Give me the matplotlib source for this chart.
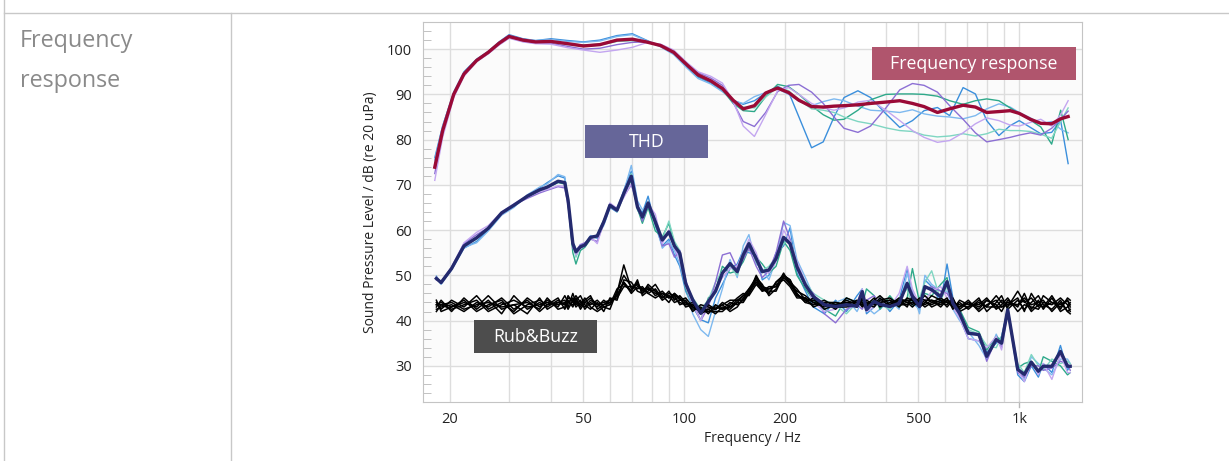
import matplotlib.pyplot as plt
from matplotlib.lines import Line2D
from matplotlib.patches import Rectangle
from matplotlib.ticker import FixedLocator, FixedFormatter, MultipleLocator

plt.rcParams.update({"font.family": ["Open Sans", "DejaVu Sans"]})

# ---- frequency response (6 devices + average) ----
fr_freq = [18, 19, 20.5, 22, 24, 26, 28, 30, 33, 36,
           40, 45, 50, 56, 63, 70, 77, 85, 93, 102,
           110, 120, 130, 140, 150, 162, 175, 190, 205, 220,
           240, 260, 280, 300, 330, 360, 400, 440, 480, 520,
           570, 620, 680, 740, 800, 870, 940, 1000, 1080, 1160,
           1250, 1330, 1400]

fr_mean = [73.9, 82.0, 90.0, 94.5, 97.5, 99.3, 101.3, 102.8, 102.0, 101.6,
           101.7, 101.2, 100.7, 101.0, 102.0, 102.2, 101.6, 100.8, 99.3, 96.5,
           94.3, 93.0, 91.3, 88.7, 86.8, 87.5, 90.3, 91.4, 90.4, 88.7,
           87.3, 87.2, 87.4, 87.5, 87.7, 88.0, 88.3, 88.6, 88.0, 87.3,
           86.0, 86.8, 87.6, 87.2, 86.0, 86.2, 86.4, 85.8, 84.5, 83.6,
           83.5, 84.6, 85.1]

fr_blue = [76.0, 83.0, 90.5, 95.0, 97.8, 99.5, 101.6, 103.2, 102.3, 101.9,
           102.3, 101.9, 101.6, 102.0, 103.0, 103.4, 102.0, 100.6, 99.0, 96.0,
           93.8, 92.5, 90.8, 88.7, 87.8, 88.6, 90.3, 91.8, 90.5, 85.0,
           78.2, 79.5, 85.0, 89.3, 90.8, 89.3, 85.7, 82.7, 84.2, 86.4,
           87.1, 85.3, 91.5, 90.1, 84.2, 80.9, 83.1, 84.2, 82.7, 81.3,
           81.6, 84.2, 74.7]

fr_lblue = [75.5, 83.0, 90.3, 94.8, 97.6, 99.5, 101.5, 103.0, 102.2, 101.9,
            102.1, 101.7, 101.5, 101.8, 102.8, 103.2, 101.9, 100.5, 98.8, 95.8,
            93.5, 92.3, 90.6, 88.6, 88.0, 89.5, 90.4, 91.2, 90.0, 88.5,
            87.5, 88.4, 89.0, 88.6, 87.4, 86.5, 86.3, 86.0, 86.6, 85.7,
            85.2, 85.0, 84.6, 85.3, 86.8, 87.9, 87.2, 86.0, 84.8, 83.5,
            84.0, 82.3, 81.5]

fr_teal = [74.5, 82.5, 90.2, 94.6, 97.6, 99.4, 101.4, 102.8, 102.0, 101.6,
           101.7, 101.2, 100.9, 101.1, 101.8, 101.9, 101.5, 100.8, 99.2, 96.3,
           94.0, 92.8, 91.0, 88.0, 86.4, 86.2, 89.5, 92.2, 91.7, 90.0,
           87.5, 85.5, 84.3, 84.5, 86.5, 88.8, 90.0, 90.1, 90.1, 90.0,
           89.6, 88.6, 87.8, 88.6, 89.0, 88.6, 87.0, 85.8, 84.3, 82.8,
           79.0, 86.5, 80.0]

fr_lteal = [74.0, 82.3, 90.0, 94.4, 97.4, 99.2, 101.3, 102.7, 101.9, 101.5,
            101.5, 101.0, 100.6, 100.9, 101.7, 102.0, 101.6, 100.9, 99.4, 96.6,
            94.3, 93.0, 91.0, 88.5, 87.2, 87.0, 89.4, 91.6, 90.8, 88.8,
            86.8, 86.5, 86.0, 85.0, 84.0, 83.5, 82.6, 82.0, 81.8, 81.0,
            80.6, 80.8, 81.3, 80.8, 81.3, 82.3, 82.0, 82.0, 81.8, 81.2,
            80.3, 84.0, 87.0]

fr_purple = [72.5, 81.5, 89.7, 94.3, 97.3, 99.0, 101.0, 102.5, 101.7, 101.3,
             101.3, 100.6, 100.0, 100.2, 101.0, 101.5, 101.6, 101.0, 99.6, 96.8,
             94.8, 93.6, 92.0, 88.2, 84.0, 82.9, 86.0, 90.6, 92.0, 92.2,
             90.5, 88.0, 85.0, 82.5, 81.6, 83.0, 87.0, 91.0, 92.4, 92.0,
             90.5, 87.5, 84.5, 81.5, 79.5, 80.0, 80.5, 81.0, 81.5, 81.0,
             82.5, 84.5, 86.3]

fr_lpurple = [71.0, 80.5, 89.3, 94.0, 97.2, 99.0, 100.9, 102.4, 101.6, 101.2,
              101.1, 100.3, 99.8, 99.3, 99.8, 100.4, 101.4, 101.1, 99.8, 97.0,
              95.0, 94.0, 92.5, 88.5, 83.0, 80.7, 85.5, 90.8, 91.5, 90.0,
              88.0, 87.0, 86.5, 87.0, 88.3, 88.7, 86.5, 84.2, 82.0, 80.5,
              79.4, 79.8, 81.5, 83.5, 84.8, 84.2, 83.2, 83.0, 83.8, 84.5,
              83.0, 85.5, 88.6]

# ---- THD (6 devices + average) and Rub&Buzz (7 devices) ----
thd_freq = [18.2, 18.8, 20.2, 22, 24, 26, 28.5, 31, 34, 37,
            39, 42, 44, 45, 46.5, 47.5, 49, 50.5, 52.5, 55,
            57.5, 60, 63, 66, 69.5, 72.5, 75, 78, 82, 86,
            90, 93.5, 97, 101, 106, 112, 118, 124, 130, 137,
            144, 150, 156, 164, 171, 179, 188, 198, 207, 217,
            230, 243, 262, 283, 305, 328, 340, 350, 369, 384,
            411, 438, 463, 480, 504, 523, 548, 583, 609, 634,
            664, 705, 758, 800, 854, 886, 924, 990, 1036, 1087,
            1141, 1180, 1252, 1328, 1394, 1420]

thd_mean = [49.3, 48.4, 51.5, 56.5, 58.3, 60.4, 63.8, 65.5, 67.5, 68.9,
            69.5, 70.8, 70.5, 66.6, 57.0, 55.2, 56.3, 56.7, 58.4, 58.7,
            61.8, 65.5, 64.4, 68.1, 71.9, 65.1, 62.9, 66.0, 61.8, 57.8,
            59.6, 56.5, 54.9, 48.2, 44.6, 41.6, 44.2, 46.5, 50.5, 52.6,
            50.8, 54.5, 57.0, 53.7, 50.8, 51.2, 53.7, 58.4, 57.0, 51.9,
            47.9, 45.3, 43.5, 43.1, 43.5, 43.2, 46.4, 42.4, 44.2, 43.6,
            43.1, 43.8, 48.2, 45.3, 43.1, 47.5, 46.8, 45.3, 48.6, 43.8,
            41.6, 37.2, 36.9, 32.1, 35.8, 35.0, 42.4, 29.2, 28.1, 30.8,
            28.8, 29.9, 29.9, 33.2, 29.9, 29.9]

thd_blue = [49.8, 48.2, 51.2, 56.0, 57.5, 60.0, 63.5, 65.2, 67.6, 69.3,
            70.5, 72.0, 71.5, 66.0, 56.5, 54.5, 56.8, 56.5, 58.6, 58.2,
            61.5, 65.0, 64.0, 68.8, 73.0, 65.5, 63.8, 67.5, 61.0, 56.5,
            58.0, 54.5, 52.0, 46.5, 43.0, 40.2, 39.5, 45.0, 48.0, 51.5,
            52.5, 55.5, 55.0, 54.5, 49.0, 50.0, 55.0, 56.5, 60.5, 50.5,
            46.5, 43.0, 41.5, 44.5, 42.0, 45.5, 47.0, 41.5, 43.0, 45.0,
            42.0, 44.5, 51.5, 44.0, 42.5, 49.0, 47.5, 44.0, 52.5, 45.0,
            40.5, 36.0, 35.5, 33.0, 35.0, 36.5, 42.5, 28.0, 26.5, 30.0,
            27.5, 30.5, 28.5, 34.5, 29.0, 30.0]

thd_lblue = [49.5, 48.0, 51.4, 56.2, 57.2, 59.8, 63.3, 65.0, 67.8, 69.5,
             70.2, 72.3, 71.8, 66.5, 57.5, 55.8, 56.0, 56.9, 58.8, 58.5,
             61.0, 64.8, 65.0, 68.5, 74.3, 66.5, 64.5, 65.5, 62.0, 56.0,
             57.5, 55.5, 52.5, 47.5, 41.5, 38.0, 36.5, 42.0, 47.0, 53.5,
             49.5, 56.5, 59.0, 52.5, 51.5, 49.0, 53.5, 61.7, 61.0, 53.5,
             49.5, 45.5, 42.5, 44.0, 45.0, 42.0, 44.5, 43.0, 41.5, 42.5,
             44.5, 42.5, 50.5, 46.5, 41.5, 50.0, 48.0, 46.5, 46.5, 42.5,
             40.0, 37.5, 34.5, 31.5, 37.0, 34.5, 41.5, 30.0, 27.0, 32.0,
             30.5, 29.5, 28.0, 31.5, 31.5, 30.5]

thd_teal = [49.2, 48.5, 51.6, 56.8, 58.2, 60.2, 63.6, 65.7, 67.3, 68.7,
            69.4, 70.5, 70.2, 66.0, 55.0, 52.5, 55.5, 56.2, 58.0, 59.0,
            62.2, 65.0, 64.5, 67.8, 71.0, 64.8, 61.5, 65.0, 59.8, 58.5,
            61.5, 57.0, 54.0, 47.0, 43.5, 40.0, 45.0, 46.5, 52.0, 50.5,
            51.0, 53.0, 56.0, 54.0, 52.5, 50.5, 52.0, 57.5, 55.5, 50.0,
            47.0, 44.5, 42.5, 41.0, 45.0, 44.0, 43.5, 47.0, 45.5, 42.5,
            45.5, 43.0, 45.0, 51.5, 44.0, 46.0, 45.5, 48.0, 49.5, 43.0,
            42.5, 38.5, 37.5, 33.5, 36.5, 35.5, 43.0, 29.5, 30.5, 31.0,
            28.5, 32.0, 31.0, 30.0, 28.0, 28.5]

thd_lteal = [49.4, 48.6, 51.5, 56.6, 58.0, 60.6, 63.9, 65.4, 67.4, 68.8,
             69.6, 70.9, 70.6, 67.0, 57.5, 54.0, 56.5, 56.8, 58.2, 58.9,
             62.0, 65.8, 64.0, 67.5, 72.5, 64.5, 62.5, 66.2, 62.5, 58.0,
             62.0, 57.5, 55.5, 48.0, 45.0, 42.5, 44.5, 48.5, 51.0, 52.0,
             50.0, 55.0, 57.5, 53.0, 51.0, 52.0, 54.0, 57.0, 58.0, 52.5,
             48.5, 46.0, 44.5, 43.5, 41.5, 44.0, 45.5, 43.5, 44.5, 43.5,
             42.5, 45.0, 47.0, 43.0, 45.0, 48.5, 51.0, 44.5, 47.5, 44.5,
             41.5, 38.0, 37.0, 34.5, 34.0, 36.5, 41.5, 30.5, 28.5, 32.5,
             30.0, 29.0, 31.5, 30.5, 31.0, 30.5]

thd_purple = [49.0, 48.6, 51.8, 57.0, 59.0, 60.5, 63.5, 65.6, 67.0, 68.2,
              68.8, 69.6, 69.3, 65.5, 56.0, 55.5, 56.8, 57.2, 58.0, 57.5,
              61.5, 65.2, 64.2, 67.5, 70.0, 66.0, 62.0, 65.5, 62.2, 56.5,
              57.0, 54.0, 55.5, 49.0, 44.0, 40.0, 43.0, 48.5, 54.5, 55.0,
              51.5, 53.5, 56.0, 52.0, 49.5, 51.0, 55.0, 62.0, 58.0, 52.0,
              47.5, 46.0, 41.5, 39.5, 42.5, 43.5, 42.5, 44.5, 45.5, 43.5,
              43.5, 44.0, 48.5, 46.0, 43.5, 47.0, 47.5, 46.5, 46.0, 44.0,
              41.0, 37.5, 37.0, 31.0, 36.0, 34.0, 42.5, 28.5, 27.5, 30.0,
              30.0, 29.0, 29.5, 31.0, 30.5, 29.0]

thd_lpurple = [49.6, 48.3, 51.7, 57.2, 59.5, 61.0, 64.0, 65.8, 67.6, 68.5,
               69.0, 69.8, 69.7, 66.2, 57.5, 54.5, 56.0, 56.5, 58.5, 57.0,
               61.8, 66.0, 64.8, 67.2, 70.3, 65.5, 63.0, 65.8, 63.5, 57.0,
               60.0, 56.0, 53.5, 47.5, 43.5, 40.0, 44.5, 47.0, 49.5, 51.5,
               52.0, 55.0, 58.0, 55.0, 51.0, 50.5, 53.0, 60.0, 57.5, 53.0,
               48.5, 44.0, 42.0, 42.5, 44.0, 44.0, 47.0, 42.0, 43.0, 44.5,
               43.0, 46.0, 52.0, 47.0, 43.5, 44.5, 46.5, 47.5, 45.0, 43.0,
               40.5, 36.0, 35.5, 34.0, 36.5, 33.5, 42.0, 29.0, 26.5, 31.0,
               28.0, 30.5, 27.0, 32.5, 28.5, 28.5]

rb_1 = [44.0, 42.5, 44.5, 43.0, 45.5, 42.5, 44.0, 42.0, 45.0, 43.0,
        44.5, 43.0, 45.5, 44.0, 45.0, 43.5, 44.5, 42.5, 44.0, 43.0,
        44.5, 43.5, 46.0, 52.3, 47.0, 48.0, 46.5, 47.5, 45.5, 46.5,
        45.0, 46.0, 44.5, 45.0, 43.0, 42.0, 43.5, 42.5, 44.0, 43.0,
        44.5, 45.5, 46.0, 50.0, 47.5, 46.0, 48.5, 50.0, 49.0, 45.5,
        44.5, 43.5, 44.5, 43.0, 44.5, 43.5, 45.0, 43.0, 44.5, 45.5,
        43.5, 45.0, 44.0, 43.0, 44.5, 45.5, 44.0, 43.5, 44.5, 43.0,
        44.0, 42.5, 44.5, 43.0, 45.5, 44.0, 43.0, 46.5, 44.0, 45.0,
        43.0, 45.5, 44.0, 43.5, 44.5, 43.5]

rb_2 = [43.0, 44.5, 42.0, 45.0, 42.5, 44.5, 41.5, 45.5, 42.5, 44.0,
        43.0, 44.5, 43.5, 45.5, 44.0, 45.0, 43.0, 44.5, 45.5, 42.5,
        43.5, 44.0, 45.5, 48.5, 46.0, 47.5, 47.0, 46.0, 47.0, 45.0,
        46.5, 44.5, 45.5, 44.0, 42.5, 43.0, 41.5, 43.5, 42.5, 44.0,
        43.5, 44.5, 47.0, 48.5, 46.5, 47.5, 47.5, 50.5, 48.0, 46.5,
        45.5, 44.0, 43.0, 44.0, 43.5, 44.5, 43.0, 44.5, 43.5, 44.0,
        44.5, 43.0, 45.0, 44.5, 43.0, 44.0, 45.5, 44.5, 43.0, 44.5,
        42.5, 44.0, 42.5, 44.5, 43.5, 42.0, 44.5, 43.0, 46.0, 42.5,
        44.5, 42.5, 45.0, 42.0, 43.0, 44.0]

rb_3 = [42.5, 43.0, 43.5, 42.0, 44.0, 43.0, 45.0, 42.5, 44.5, 42.0,
        43.5, 45.0, 42.5, 44.0, 43.5, 44.5, 45.5, 43.5, 42.5, 44.0,
        42.0, 45.0, 44.5, 49.0, 48.5, 46.5, 46.0, 48.0, 46.5, 44.5,
        45.5, 45.0, 44.0, 43.5, 44.0, 41.5, 42.5, 41.5, 43.0, 42.5,
        44.0, 44.0, 46.0, 49.5, 48.0, 45.5, 47.0, 49.5, 48.5, 46.0,
        44.0, 45.0, 42.5, 43.5, 44.0, 43.0, 44.5, 43.5, 45.0, 43.0,
        44.0, 44.5, 43.0, 45.5, 44.0, 43.0, 44.0, 45.0, 44.0, 43.5,
        43.5, 43.0, 45.0, 42.0, 44.0, 45.5, 42.5, 44.5, 42.5, 44.0,
        45.5, 43.5, 42.5, 44.5, 42.0, 42.5]

rb_4 = [44.5, 42.0, 43.0, 44.0, 43.0, 45.5, 42.5, 43.5, 41.5, 45.0,
        42.5, 44.0, 44.5, 43.0, 46.0, 44.0, 43.5, 45.0, 43.0, 42.0,
        43.0, 43.5, 47.0, 48.0, 46.5, 49.0, 45.5, 46.5, 48.0, 45.5,
        44.0, 46.0, 45.0, 43.0, 43.5, 42.5, 42.0, 42.0, 42.0, 43.5,
        45.0, 46.0, 45.5, 48.0, 46.5, 47.0, 48.0, 49.0, 47.5, 45.0,
        45.0, 43.0, 44.0, 42.5, 45.0, 44.0, 43.5, 44.0, 43.5, 45.0,
        43.0, 44.0, 44.5, 43.5, 45.0, 44.5, 43.0, 44.0, 45.0, 42.5,
        44.5, 43.5, 43.5, 45.0, 42.5, 43.5, 45.0, 42.0, 43.5, 43.0,
        42.5, 44.0, 43.5, 45.0, 43.5, 42.0]

rb_5 = [43.5, 43.5, 42.5, 43.5, 44.5, 42.0, 43.5, 44.5, 43.0, 43.5,
        44.0, 43.5, 44.0, 42.5, 44.5, 45.5, 44.0, 43.0, 44.5, 43.5,
        44.0, 44.5, 45.0, 47.5, 47.5, 47.0, 47.5, 46.0, 45.0, 46.0,
        45.5, 44.0, 44.5, 44.5, 42.0, 43.5, 43.0, 42.5, 43.5, 42.0,
        43.0, 45.0, 46.5, 49.0, 47.0, 46.5, 46.5, 50.0, 48.5, 47.0,
        44.5, 44.5, 43.5, 43.0, 43.0, 43.5, 44.0, 42.5, 44.0, 44.0,
        44.5, 43.5, 44.0, 44.0, 43.5, 44.5, 44.5, 43.0, 44.5, 44.0,
        43.0, 44.5, 42.0, 43.5, 44.5, 43.0, 43.5, 45.0, 42.0, 46.0,
        43.5, 43.0, 44.0, 43.0, 44.5, 43.0]

rb_6 = [42.0, 43.5, 44.0, 42.5, 43.5, 44.0, 43.0, 43.5, 44.0, 42.5,
        45.0, 42.5, 43.0, 44.5, 43.0, 44.5, 42.5, 44.0, 43.5, 44.5,
        43.0, 42.5, 46.5, 50.0, 47.5, 48.0, 47.0, 47.0, 46.5, 45.0,
        46.0, 45.5, 43.5, 44.0, 43.0, 42.5, 42.5, 43.0, 42.5, 43.0,
        44.0, 45.5, 47.0, 49.5, 47.0, 46.0, 48.5, 50.0, 49.0, 46.0,
        44.0, 43.5, 44.0, 44.0, 43.5, 43.0, 45.0, 43.5, 43.0, 44.5,
        45.0, 43.5, 43.5, 44.0, 44.0, 43.5, 44.5, 44.0, 43.5, 45.0,
        42.0, 43.0, 44.0, 43.0, 43.0, 44.5, 43.5, 43.5, 45.0, 43.5,
        44.0, 44.5, 42.0, 44.0, 42.0, 41.5]

rb_7 = [43.5, 44.0, 43.0, 44.5, 42.0, 43.5, 44.5, 41.5, 43.5, 44.5,
        43.5, 44.0, 43.5, 45.0, 44.5, 43.0, 44.0, 44.0, 45.0, 43.5,
        43.5, 44.5, 45.5, 48.5, 46.5, 48.5, 46.0, 47.0, 46.0, 46.0,
        45.0, 45.5, 45.0, 43.5, 43.5, 42.0, 42.0, 42.5, 43.5, 44.5,
        44.5, 44.5, 46.0, 48.5, 47.5, 47.0, 47.5, 49.5, 48.0, 45.5,
        45.0, 44.0, 43.5, 43.5, 44.0, 44.0, 43.5, 43.0, 44.0, 43.5,
        43.5, 44.5, 44.5, 44.5, 43.0, 44.0, 43.5, 44.5, 44.0, 43.5,
        43.0, 44.0, 43.0, 44.5, 43.0, 43.0, 44.0, 43.5, 44.5, 42.0,
        43.5, 43.0, 45.5, 42.5, 45.0, 44.5]

device_colors = ["#3b8fdc", "#7eb9ef", "#2ea98a", "#7fd6c2", "#8c6fd4", "#c3a6f0"]
fr_devices = [fr_blue, fr_lblue, fr_teal, fr_lteal, fr_purple, fr_lpurple]
thd_devices = [thd_blue, thd_lblue, thd_teal, thd_lteal, thd_purple, thd_lpurple]
rb_devices = [rb_1, rb_2, rb_3, rb_4, rb_5, rb_6, rb_7]

x_major = [20, 50, 100, 200, 500, 1000]
x_labels = ["20", "50", "100", "200", "500", "1k"]
x_grid = [20, 30, 40, 50, 60, 70, 80, 90, 100, 200, 300, 400, 500, 600, 700, 800, 900, 1000]

W, H = 1229, 461
fig = plt.figure(figsize=(W / 100, H / 100), dpi=100)

# table frame around the chart
line_col = "#c8c8c8"
fig.add_artist(Line2D([4 / W, 1], [1 - 13 / H, 1 - 13 / H], color=line_col, lw=1))
fig.add_artist(Line2D([4 / W, 4 / W], [0, 1], color=line_col, lw=1))
fig.add_artist(Line2D([231 / W, 231 / W], [0, 1 - 13 / H], color=line_col, lw=1))
fig.text(20 / W, 1 - 47 / H, "Frequency", fontsize=16.8, color="#8a8a8a", va="baseline")
fig.text(20 / W, 1 - 87 / H, "response", fontsize=16.8, color="#8a8a8a", va="baseline")

ax = fig.add_axes([423 / W, 59 / H, 659 / W, 380 / H])
ax.set_xscale("log")
ax.set_xlim(16.6, 1540)
ax.set_ylim(22, 106)

ax.axhspan(30, 60, color="#fbfbfb", zorder=0, lw=0)
ax.axhspan(70, 100, color="#fbfbfb", zorder=0, lw=0)

for vals, c in zip(fr_devices, device_colors):
    ax.plot(fr_freq, vals, color=c, lw=1.0, zorder=2)
for vals, c in zip(thd_devices, device_colors):
    ax.plot(thd_freq, vals, color=c, lw=1.0, zorder=2)
for vals in rb_devices:
    ax.plot(thd_freq, vals, color="black", lw=1.1, zorder=3)
ax.plot(fr_freq, fr_mean, color="#9a0a36", lw=2.4, zorder=4)
ax.plot(thd_freq, thd_mean, color="#242a6e", lw=2.4, zorder=4)

# grid and ticks
ax.xaxis.set_major_locator(FixedLocator(x_major))
ax.xaxis.set_major_formatter(FixedFormatter(x_labels))
ax.xaxis.set_minor_locator(FixedLocator(x_grid))
ax.yaxis.set_major_locator(MultipleLocator(10))
ax.yaxis.set_minor_locator(MultipleLocator(2))
ax.grid(True, axis="x", which="both", color="#dddddd", lw=1, zorder=1)
ax.grid(True, axis="y", which="major", color="#dddddd", lw=1, zorder=1)
ax.set_axisbelow(True)
ax.tick_params(axis="x", which="both", length=0, pad=7, labelsize=10.5, labelcolor="#222222")
ax.tick_params(axis="y", which="major", length=0, pad=8, labelsize=10.5, labelcolor="#222222")
ax.tick_params(axis="y", which="minor", direction="in", length=6, color="#b8b8b8")
ax.plot([1000, 1000], [0, -0.014], transform=ax.get_xaxis_transform(),
        color="#b8b8b8", lw=1, clip_on=False)
for s in ax.spines.values():
    s.set_color("#c4c4c4")

ax.set_xlabel("Frequency / Hz", fontsize=10, color="#222222", labelpad=3)
ax.set_ylabel("Sound Pressure Level / dB (re 20 uPa)", fontsize=10, color="#222222", labelpad=6)

# labels in coloured boxes
boxes = [
    (0.681, 0.847, 0.310, "#b0556d", "Frequency response"),
    (0.246, 0.643, 0.187, "#666699", "THD"),
    (0.077, 0.130, 0.187, "#4d4d4d", "Rub&Buzz"),
]
for bx, by, bw, bc, txt in boxes:
    ax.add_patch(Rectangle((bx, by), bw, 0.087, transform=ax.transAxes,
                           facecolor=bc, edgecolor="none", zorder=6))
    ax.text(bx + bw / 2, by + 0.042, txt, transform=ax.transAxes, color="white",
            fontsize=12.8, ha="center", va="center", zorder=7)

fig.savefig("out.png", dpi=100)
